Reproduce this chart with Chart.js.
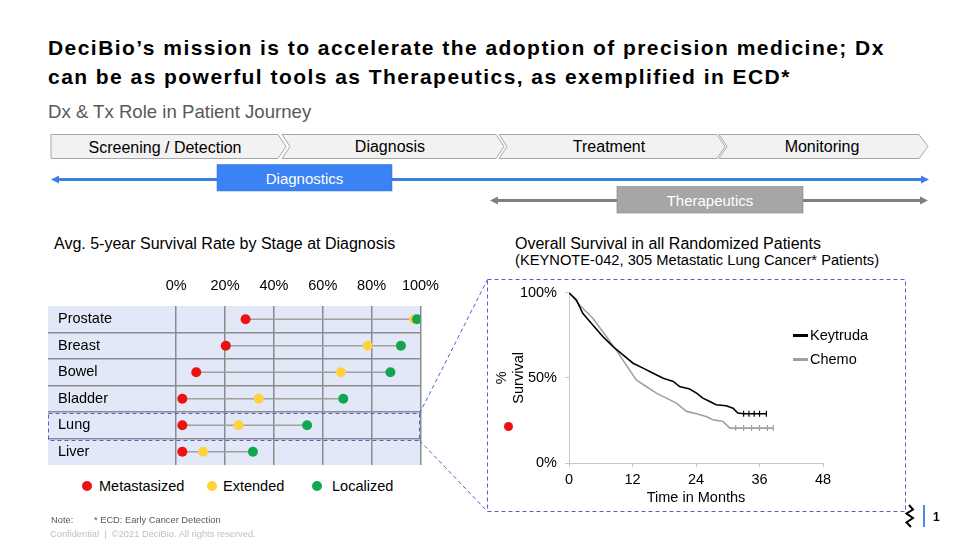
<!DOCTYPE html>
<html>
<head>
<meta charset="utf-8">
<script src="https://cdn.jsdelivr.net/npm/chart.js@4.4.1/dist/chart.umd.min.js"></script>
<style>
  html, body { margin: 0; padding: 0; background: #fff; }
  body { width: 960px; height: 540px; position: relative; overflow: hidden;
         font-family: "Liberation Sans", Arial, sans-serif; color: #000; }
  .abs { position: absolute; white-space: nowrap; }
  #title { left: 48px; top: 33px; font-size: 21px; letter-spacing: 1.45px; font-weight: bold; line-height: 29px; }
  #subtitle { left: 48px; top: 101px; font-size: 18.6px; color: #595959; }
  .sect { font-size: 16px; line-height: 17px; color: #000; }
  #stageWrap { left: 40px; top: 270px; width: 410px; height: 200px; }
  #kmWrap { left: 488px; top: 276px; width: 418px; height: 236px; }
  .lg { font-size: 14.5px; line-height: 16px; }
  .lg i { display: inline-block; width: 15px; height: 3px; vertical-align: middle; margin-right: 2px; position: relative; top: -1px; }
  .dot { position: absolute; width: 10px; height: 10px; border-radius: 50%; }
  .foot { font-size: 9.3px; }
</style>
</head>
<body>

<div id="title" class="abs">DeciBio’s mission is to accelerate the adoption of precision medicine; Dx<br>can be as powerful tools as Therapeutics, as exemplified in ECD*</div>
<div id="subtitle" class="abs">Dx &amp; Tx Role in Patient Journey</div>

<!-- patient journey chevrons and role arrows -->
<svg class="abs" style="left:0;top:0" width="960" height="540" font-family="Liberation Sans, Arial, sans-serif">
  <g fill="#f2f2f2" stroke="#a6a6a6" stroke-width="1">
    <polygon points="51,134.5 278,134.5 286,146.5 278,158.5 51,158.5"/>
    <polygon points="282,134.5 496,134.5 504,146.5 496,158.5 282,158.5 290,146.5"/>
    <polygon points="499,134.5 717,134.5 725,146.5 717,158.5 499,158.5 507,146.5"/>
    <polygon points="719,134.5 919,134.5 928,146.5 919,158.5 719,158.5 727,146.5"/>
  </g>
  <g font-size="16" fill="#000" text-anchor="middle">
    <text x="165" y="152.5">Screening / Detection</text>
    <text x="390" y="152">Diagnosis</text>
    <text x="609" y="152">Treatment</text>
    <text x="822" y="152">Monitoring</text>
  </g>
  <line x1="57" y1="179.5" x2="922" y2="179.5" stroke="#3d7fe3" stroke-width="3"/>
  <polygon points="51,179.5 59,175.5 59,183.5" fill="#3d7fe3"/>
  <polygon points="929,179.5 921,175.5 921,183.5" fill="#3d7fe3"/>
  <rect x="217" y="164.5" width="175" height="26.5" fill="#3b82f4" stroke="#2f6fd8" stroke-width="0.5"/>
  <text x="304.5" y="183.5" font-size="15" fill="#fff" text-anchor="middle">Diagnostics</text>
  <line x1="496" y1="200.5" x2="922" y2="200.5" stroke="#7f7f7f" stroke-width="3"/>
  <polygon points="490,200.5 498,196.5 498,204.5" fill="#7f7f7f"/>
  <polygon points="928,200.5 920,196.5 920,204.5" fill="#7f7f7f"/>
  <rect x="617" y="186.5" width="186" height="26.5" fill="#a6a6a6" stroke="#8c8c8c" stroke-width="0.7"/>
  <text x="710" y="205.5" font-size="15" fill="#fff" text-anchor="middle">Therapeutics</text>
</svg>

<div class="abs sect" style="left:54px;top:235px">Avg. 5-year Survival Rate by Stage at Diagnosis</div>
<div class="abs sect" style="left:515px;top:235px">Overall Survival in all Randomized Patients</div>
<div class="abs sect" style="left:515px;top:252px;font-size:14.7px">(KEYNOTE-042, 305 Metastatic Lung Cancer* Patients)</div>

<div id="stageWrap" class="abs"><canvas id="stageChart"></canvas></div>
<div id="kmWrap" class="abs"><canvas id="kmChart"></canvas></div>

<!-- stage chart legend -->
<div class="dot" style="left:82px;top:481px;background:#ee1111"></div>
<div class="abs lg" style="left:99px;top:478px">Metastasized</div>
<div class="dot" style="left:207px;top:481px;background:#ffd23c"></div>
<div class="abs lg" style="left:223px;top:478px">Extended</div>
<div class="dot" style="left:312px;top:481px;background:#13a651"></div>
<div class="abs lg" style="left:332px;top:478px">Localized</div>

<!-- survival curve legend -->
<div class="abs lg" style="left:793px;top:327px"><i style="background:#000"></i>Keytruda</div>
<div class="abs lg" style="left:793px;top:351px"><i style="background:#a0a0a0"></i>Chemo</div>
<div class="abs" style="left:503.5px;top:421.5px;width:9px;height:9px;border-radius:50%;background:#ee1111"></div>

<!-- dashed call-out from the lung row to the survival curve -->
<svg class="abs" style="left:0;top:0" width="960" height="540">
  <g fill="none" stroke="#5a5ad2" stroke-width="1" stroke-dasharray="4,3">
    <rect x="48.5" y="413.5" width="371" height="27"/>
    <line x1="419.5" y1="413.5" x2="487.5" y2="279.5"/>
    <line x1="419.5" y1="440.5" x2="487.5" y2="511.5"/>
    <rect x="487.5" y="279.5" width="418" height="232"/>
  </g>
  <polyline points="909,505 913,509.5 906.5,513.5 913,518 906.5,522.5 911,527" fill="none" stroke="#000" stroke-width="2"/>
  <line x1="924" y1="505" x2="924" y2="527" stroke="#4a86e8" stroke-width="2"/>
  <text x="933" y="520.5" font-size="12" font-weight="bold" font-family="Liberation Sans, Arial, sans-serif">1</text>
</svg>

<div class="abs foot" style="left:51px;top:515px;color:#595959">Note:</div>
<div class="abs foot" style="left:94px;top:515px;color:#595959">* ECD: Early Cancer Detection</div>
<div class="abs foot" style="left:50px;top:529px;color:#bfbfbf">Confidential&nbsp; |&nbsp; ©2021 DeciBio. All rights reserved.</div>

<script>
// ── Data: 5-year survival by stage (%) ───────
const cancers      = ['Prostate', 'Breast', 'Bowel', 'Bladder', 'Lung', 'Liver'];
const metastasized = [28.4, 20.3, 8.2, 2.5, 2.5, 2.5];
const extended     = [97.5, 78.4, 67.4, 33.8, 25.5, 11];
const localized    = [98.6, 92, 87.7, 68.4, 53.6, 31.4];
const pctTicks     = [0, 20, 40, 60, 80, 100];

// ── Data: KEYNOTE-042 overall survival (%) ───
const keytrudaMonths = [0, 1.4, 2.6, 4.5, 6.4, 8.3, 10.2, 12.1, 14, 15.9, 17.8, 19.7, 20.9, 22.8, 24.1, 25.3, 26.6, 27.8, 29.7, 31, 31.9, 33, 34, 35, 36, 37.3];
const keytrudaSurv   = [100, 95.7, 87.9, 81, 74.2, 68.4, 63.5, 58.6, 55.7, 52.7, 49.8, 47.9, 44.9, 43.4, 41, 38.1, 36.1, 34.2, 33.6, 32.2, 29.3, 28.9, 28.9, 28.9, 28.9, 28.9];
const chemoMonths    = [0, 2, 4.5, 6.4, 8.9, 10.8, 12.7, 14.6, 16.5, 18.4, 20.3, 22.2, 24.1, 25.9, 27.2, 29.1, 30.4, 31.5, 33, 34.5, 36, 37.5, 38.6];
const chemoSurv      = [100, 92.8, 85, 77.1, 66.4, 57.6, 48.8, 44.9, 41, 38.1, 35.2, 30.3, 28.9, 27.3, 25.4, 24.4, 20.5, 20.5, 20.5, 20.5, 20.5, 20.5, 20.5];
const monthTicks     = [0, 12, 24, 36, 48];

const FONT = 'Liberation Sans, Arial, sans-serif';
Chart.defaults.font.family = FONT;
Chart.defaults.color = '#000';
Chart.defaults.animation = false;

// ── Stage chart ──────────────────────────────
const rowY = i => i + 0.5;
const connectors = [];
cancers.forEach((c, i) => {
  connectors.push({ x: metastasized[i], y: rowY(i) });
  connectors.push({ x: Math.max(extended[i], localized[i]), y: rowY(i) });
  connectors.push({ x: metastasized[i], y: null });
});

const bandPlugin = {
  id: 'band',
  beforeDraw(chart) {
    const a = chart.chartArea, ctx = chart.ctx;
    ctx.save();
    ctx.fillStyle = '#e3e8f8';
    ctx.fillRect(a.left, a.top, a.right - a.left, a.bottom - a.top);
    ctx.restore();
  },
  afterDatasetsDraw(chart) {
    const a = chart.chartArea, ctx = chart.ctx, y = chart.scales.y;
    ctx.save();
    ctx.font = '14.5px ' + FONT;
    ctx.fillStyle = '#000';
    ctx.textBaseline = 'middle';
    cancers.forEach((c, i) => ctx.fillText(c, a.left + 10, y.getPixelForValue(rowY(i))));
    ctx.restore();
  }
};

const dot = (label, data, color, order) => ({
  type: 'scatter', label, order,
  data: data.map((v, i) => ({ x: v, y: rowY(i) })),
  backgroundColor: color, borderColor: color, borderWidth: 0,
  pointRadius: 5, pointHoverRadius: 5
});

new Chart(document.getElementById('stageChart'), {
  type: 'scatter',
  data: {
    datasets: [
      dot('Metastasized', metastasized, '#ee1111', 2),
      dot('Extended', extended, '#ffd23c', 1),
      dot('Localized', localized, '#13a651', 0),
      { type: 'line', label: 'range', order: 3, data: connectors, showLine: true, spanGaps: false,
        borderColor: '#a0a0a0', borderWidth: 1.5, pointRadius: 0 }
    ]
  },
  options: {
    responsive: true, maintainAspectRatio: false,
    layout: { padding: { left: 8, right: 0, top: 0, bottom: 1 } },
    scales: {
      x: {
        type: 'linear', position: 'top', min: -52.5, max: 100,
        afterBuildTicks: s => { s.ticks = pctTicks.map(v => ({ value: v })); },
        afterFit: s => { s.height = 36; },
        ticks: { font: { size: 14.5 }, padding: 11, callback: v => v + '%' },
        grid: { drawTicks: false, color: '#8c8c8c', lineWidth: 1.5 },
        border: { display: false }
      },
      y: {
        type: 'linear', min: 0, max: cancers.length, reverse: true,
        ticks: { display: false, stepSize: 1 },
        afterFit: s => { s.width = 0; },
        grid: { drawTicks: false, lineWidth: 1.5,
                color: c => (c.tick.value === 0 || c.tick.value === cancers.length) ? 'rgba(0,0,0,0)' : '#8c8c8c' },
        border: { display: false }
      }
    },
    plugins: { legend: { display: false }, tooltip: { enabled: false } }
  },
  plugins: [bandPlugin]
});

// ── Survival curve ───────────────────────────
const censorRadius = from => c => (c.raw && c.raw.x >= from ? 3 : 0);

new Chart(document.getElementById('kmChart'), {
  type: 'line',
  data: {
    datasets: [
      { label: 'Keytruda', data: keytrudaMonths.map((m, i) => ({ x: m, y: keytrudaSurv[i] })),
        borderColor: '#000', backgroundColor: '#000', borderWidth: 1.6,
        pointStyle: 'line', rotation: 90, pointRadius: censorRadius(33), pointBorderWidth: 1.2 },
      { label: 'Chemo', data: chemoMonths.map((m, i) => ({ x: m, y: chemoSurv[i] })),
        borderColor: '#a0a0a0', backgroundColor: '#a0a0a0', borderWidth: 1.6,
        pointStyle: 'line', rotation: 90, pointRadius: censorRadius(31.5), pointBorderWidth: 1.2 }
    ]
  },
  options: {
    responsive: true, maintainAspectRatio: false,
    layout: { padding: { left: 0, right: 83, top: 9, bottom: 0 } },
    scales: {
      x: {
        type: 'linear', min: 0, max: 48,
        afterBuildTicks: s => { s.ticks = monthTicks.map(v => ({ value: v })); },
        afterFit: s => { s.height = 49; },
        ticks: { font: { size: 14.5 }, padding: 4 },
        grid: { drawOnChartArea: false, tickLength: 4, color: '#c8c8c8' },
        border: { color: '#c8c8c8' },
        title: { display: true, text: 'Time in Months', font: { size: 14.5 }, padding: { top: 0, bottom: 5 } }
      },
      y: {
        min: 0, max: 100,
        ticks: { stepSize: 50, font: { size: 14.5 }, padding: 8, callback: v => v + '%' },
        afterFit: s => { s.width = 81; },
        grid: { drawOnChartArea: false, tickLength: 4, color: '#c8c8c8' },
        border: { color: '#c8c8c8' },
        title: { display: true, text: ['%', 'Survival'], font: { size: 14.5 }, padding: { top: 5, bottom: 0 } }
      }
    },
    plugins: { legend: { display: false }, tooltip: { enabled: false } }
  }
});
</script>
</body>
</html>
